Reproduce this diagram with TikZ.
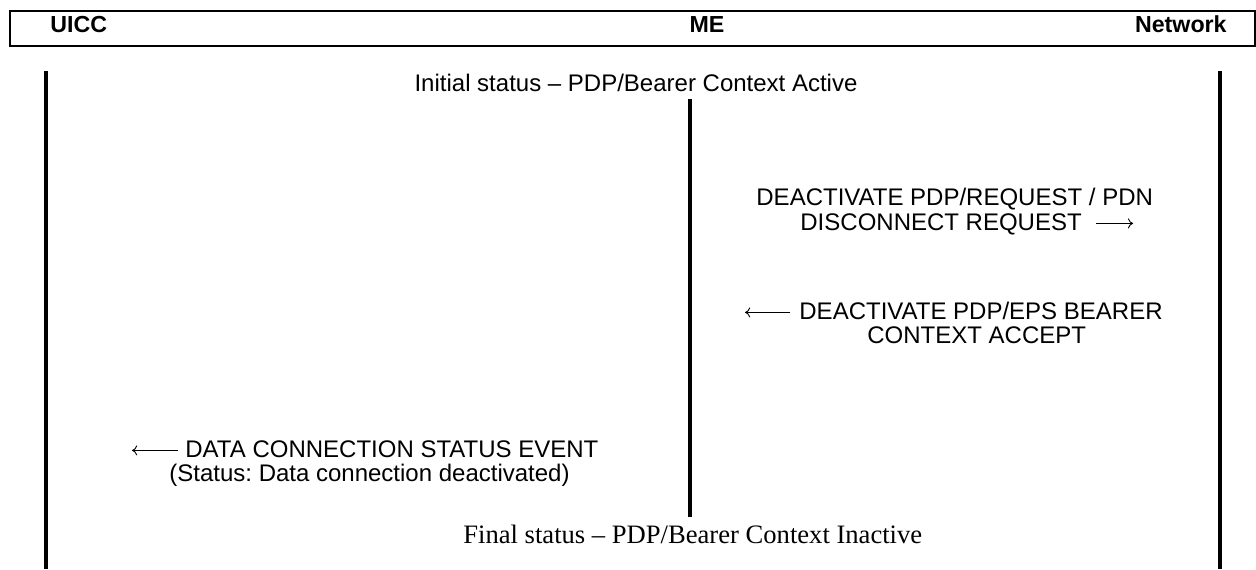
\documentclass[tikz,border=0pt]{standalone}
\usepackage{fontspec}
\setmainfont{Liberation Sans}
\newfontfamily\serifface{Liberation Serif}
\usetikzlibrary{arrows.meta}
\frenchspacing
\begin{document}
\begin{tikzpicture}[x=0.5pt,y=-0.5pt,
  lbl/.style={inner sep=0pt, text height=9pt, text depth=2.4pt, font=\fontsize{12pt}{14pt}\selectfont},
  hdr/.style={inner sep=0pt, font=\fontsize{11.6pt}{14pt}\selectfont\bfseries},
  fin/.style={inner sep=0pt, font=\fontsize{13.3pt}{16pt}\selectfont\serifface},
  life/.style={line width=2pt},
  msgarrow/.style={line width=0.45pt, -{To[length=2.6pt,width=5pt]}},
  framebox/.style={draw, line width=1.2pt, inner sep=0pt, minimum width=622.5pt, minimum height=17.5pt}]
\useasboundingbox (0,0) rectangle (1256,569);
% header
\node[framebox, anchor=north west] (hdrbox) at (9,9.5) {};
\node[hdr, anchor=base west] (uicc) at (50,32) {UICC};
\node[hdr, anchor=base] (me) at (707,32) {ME};
\node[hdr, anchor=base east] (net) at (1227,32) {Network};
% lifelines
\coordinate (uiccTop) at (46,71);
\coordinate (uiccBot) at (46,569);
\coordinate (netTop) at (1220,71);
\coordinate (netBot) at (1220,569);
\coordinate (meTop) at (690,99);
\coordinate (meBot) at (690,517);
\draw[life] (uiccTop) -- (uiccBot);
\draw[life] (netTop) -- (netBot);
\draw[life] (meTop) -- (meBot);
% texts
\node[lbl, anchor=base] (init) at (636,91) {Initial status – PDP/Bearer Context Active};
\node[lbl, anchor=base west] (req1) at (756,205) {DEACTIVATE PDP/REQUEST / PDN};
\node[lbl, anchor=base west] (req2) at (800,230) {DISCONNECT REQUEST};
\node[lbl, anchor=base west] (acc1) at (799,319) {DEACTIVATE PDP/EPS BEARER};
\node[lbl, anchor=base west] (acc2) at (867,343) {CONTEXT ACCEPT};
\node[lbl, anchor=base west] (ev1) at (185,457) {DATA CONNECTION STATUS EVENT};
\node[lbl, anchor=base west] (ev2) at (169,481) {(Status: Data connection deactivated)};
\node[fin, anchor=base west] (final) at (463,543) {Final status – PDP/Bearer Context Inactive};
% message arrows (drawn beside their texts)
\coordinate (reqS) at ([xshift=7pt,yshift=3.3pt]req2.base east);
\coordinate (reqE) at ([xshift=25.5pt,yshift=3.3pt]req2.base east);
\coordinate (accS) at ([xshift=-4.5pt,yshift=3.3pt]acc1.base west);
\coordinate (accE) at ([xshift=-27pt,yshift=3.3pt]acc1.base west);
\coordinate (evS) at ([xshift=-3.5pt,yshift=3.3pt]ev1.base west);
\coordinate (evE) at ([xshift=-26.5pt,yshift=3.3pt]ev1.base west);
\draw[msgarrow] (reqS) -- (reqE);
\draw[msgarrow] (accS) -- (accE);
\draw[msgarrow] (evS) -- (evE);
\end{tikzpicture}
\end{document}
